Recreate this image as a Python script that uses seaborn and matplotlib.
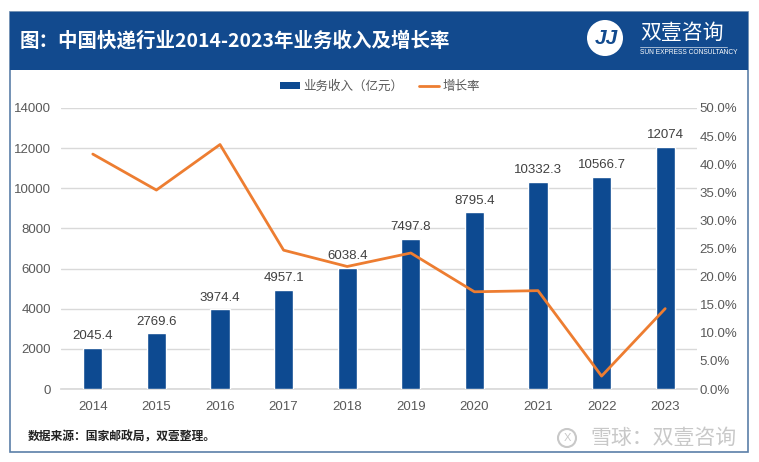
import numpy as np
import matplotlib
matplotlib.use("Agg")
import matplotlib.pyplot as plt
from matplotlib.patches import Rectangle, Patch, Ellipse
from matplotlib.lines import Line2D
import seaborn as sns

years = ["2014", "2015", "2016", "2017", "2018", "2019", "2020", "2021", "2022", "2023"]
revenue = [2045.4, 2769.6, 3974.4, 4957.1, 6038.4, 7497.8, 8795.4, 10332.3, 10566.7, 12074]
revenue_labels = ["2045.4", "2769.6", "3974.4", "4957.1", "6038.4", "7497.8", "8795.4", "10332.3", "10566.7", "12074"]
growth = [41.8, 35.4, 43.5, 24.7, 21.8, 24.2, 17.3, 17.5, 2.3, 14.3]
left_ticks = [0, 2000, 4000, 6000, 8000, 10000, 12000, 14000]
right_ticks = [0, 5, 10, 15, 20, 25, 30, 35, 40, 45, 50]

sns.set_theme(style="white")
plt.rcParams['font.family'] = ['Liberation Sans', 'Noto Sans CJK SC', 'DejaVu Sans']

W, H = 759, 462
fig = plt.figure(figsize=(W / 100, H / 100), dpi=100)
fig.patch.set_facecolor("white")

def fx(px):
    return px / W

def fy(py):
    return 1 - py / H

BLUE = "#0D4A91"
ORANGE = "#ED7D31"
CJK = ['Noto Sans CJK SC', 'DejaVu Sans']

def circle(cx, cy, r, **kw):
    fig.patches.append(Ellipse((fx(cx), fy(cy)), 2 * r / W, 2 * r / H,
                               transform=fig.transFigure, **kw))

# outer frame and header band
fig.patches.append(Rectangle((fx(10), fy(452)), fx(738), (440) / H, transform=fig.transFigure,
                             facecolor="none", edgecolor="#5B7FA8", linewidth=1.2, zorder=0))
fig.patches.append(Rectangle((fx(10), fy(70)), fx(738), (58) / H, transform=fig.transFigure,
                             facecolor="#124A8E", edgecolor="none", zorder=1))
fig.text(fx(20), fy(41), "图：中国快递行业2014-2023年业务收入及增长率", color="white",
         fontsize=14, fontweight="bold", va="center", ha="left", family=CJK)

# logo
circle(605, 38, 18, facecolor="white", edgecolor="none", zorder=2)
fig.text(fx(606), fy(39), "JJ", color="#124A8E", fontsize=15, fontweight="bold", style="italic",
         va="center", ha="center", zorder=3)
fig.text(fx(640), fy(33), "双壹咨询", color="white", fontsize=15, va="center", ha="left", family=CJK)
fig.lines.append(Line2D([fx(640), fx(727)], [fy(47), fy(47)], transform=fig.transFigure,
                        color="white", linewidth=0.6, alpha=0.7))
fig.text(fx(640), fy(53), "SUN EXPRESS CONSULTANCY", color="white", fontsize=4.8, va="center", ha="left")

# main axes
ax = fig.add_axes([fx(61), fy(389), fx(636), (389 - 108) / H])
sns.barplot(x=years, y=revenue, ax=ax, color=BLUE, width=0.3, saturation=1, zorder=3)
ax.set_xlim(-0.5, 9.5)
ax.set_ylim(0, 14000)
ax.set_yticks(left_ticks)
ax.set_yticklabels([str(t) for t in left_ticks])
ax.grid(axis="y", color="#D9D9D9", linewidth=1, zorder=0)
ax.set_axisbelow(True)
for s in ["top", "right", "left"]:
    ax.spines[s].set_visible(False)
ax.spines["bottom"].set_color("#D9D9D9")
ax.tick_params(axis="both", length=0, labelsize=9.5, colors="#595959")
ax.tick_params(axis="x", pad=9)
ax.tick_params(axis="y", pad=7)
ax.set_xlabel("")
ax.set_ylabel("")
for i, (v, lab) in enumerate(zip(revenue, revenue_labels)):
    ax.text(i, v + 280, lab, ha="center", va="bottom", fontsize=9.5, color="#404040", zorder=5)

ax2 = ax.twinx()
sns.lineplot(x=np.arange(len(years)), y=growth, ax=ax2, color=ORANGE, linewidth=2, zorder=4)
ax2.set_ylim(0, 50)
ax2.set_yticks(right_ticks)
ax2.set_yticklabels([f"{t:.1f}%" for t in right_ticks])
for s in ["top", "right", "left", "bottom"]:
    ax2.spines[s].set_visible(False)
ax2.tick_params(axis="y", length=0, labelsize=9.5, colors="#595959", pad=2)
ax2.set_ylabel("")
ax2.grid(False)

handles = [Patch(facecolor=BLUE, edgecolor="none"), Line2D([0], [0], color=ORANGE, linewidth=2)]
fig.legend(handles, ["业务收入（亿元）", "增长率"], loc="center", bbox_to_anchor=(fx(380), fy(87)),
           ncol=2, frameon=False, fontsize=9, handlelength=1.6, handleheight=0.5,
           columnspacing=1.2, handletextpad=0.3, labelcolor="#595959")

fig.text(fx(28), fy(437), "数据来源：国家邮政局，双壹整理。", fontsize=8.5, fontweight="bold",
         color="#222222", va="center", ha="left", family=CJK)

# watermark
circle(567, 438, 9, facecolor="none", edgecolor="#C8C8C8", linewidth=1.5)
fig.text(fx(567), fy(438), "X", fontsize=8, color="#C8C8C8", va="center", ha="center")
fig.text(fx(737), fy(438), "雪球：双壹咨询", fontsize=15, color="#C8C8C8", va="center", ha="right",
         family=CJK)

fig.savefig("out.png", dpi=100)
